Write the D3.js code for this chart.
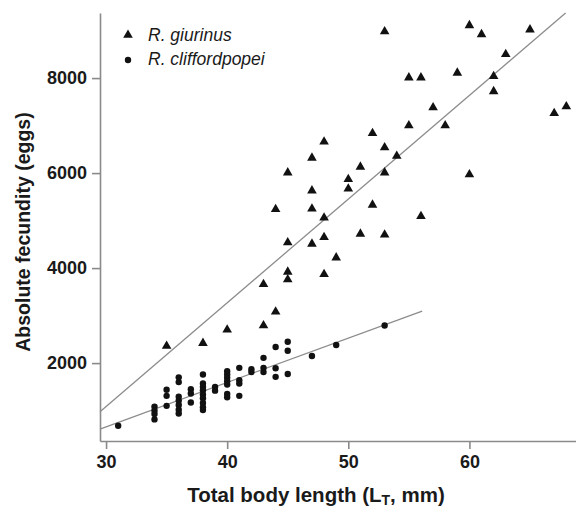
<!DOCTYPE html>
<html>
<head>
<meta charset="utf-8">
<script src="https://cdn.jsdelivr.net/npm/d3@7"></script>
<style>
  body { margin: 0; background: #fff; }
  svg { display: block; font-family: "Liberation Sans", Arial, sans-serif; }
</style>
</head>
<body>
<svg id="chart" width="576" height="509"></svg>
<script>
// R. giurinus (triangles): [length mm, eggs]
const giurinus = [
  [35, 2360], [38, 2420], [40, 2700], [43, 2790], [43, 3660], [44, 3080], [44, 5240],
  [45, 3760], [45, 3920], [45, 4540], [45, 6010], [47, 4510], [47, 5250], [47, 5630],
  [47, 6320], [48, 3870], [48, 4650], [48, 5060], [48, 6660], [49, 4220], [50, 5670],
  [50, 5870], [51, 4720], [51, 6130], [52, 5330], [52, 6840], [53, 4700], [53, 6010],
  [53, 6540], [53, 8980], [54, 6360], [55, 7000], [55, 8010], [56, 5090], [56, 8010],
  [57, 7380], [58, 7000], [59, 8110], [60, 5970], [60, 9110], [61, 8920], [62, 7720],
  [62, 8040], [63, 8500], [65, 9020], [67, 7260], [68, 7400]
];

// R. cliffordpopei (dots)
const cliffordpopei = [
  [31, 680],
  [34, 1080], [34, 1000], [34, 930], [34, 815],
  [35, 1440], [35, 1310], [35, 1100],
  [36, 1700], [36, 1600], [36, 1290], [36, 1210], [36, 1120], [36, 1020], [36, 940],
  [37, 1450], [37, 1360], [37, 1170],
  [38, 1760], [38, 1570], [38, 1500], [38, 1430], [38, 1340], [38, 1260], [38, 1160], [38, 1070], [38, 1010],
  [39, 1500], [39, 1420],
  [40, 1830], [40, 1760], [40, 1690], [40, 1620], [40, 1550], [40, 1350], [40, 1280],
  [41, 1900], [41, 1640], [41, 1570], [41, 1310],
  [42, 1870], [42, 1810],
  [43, 2110], [43, 1900], [43, 1810],
  [44, 2340], [44, 1890], [44, 1710],
  [45, 2450], [45, 2260], [45, 1770],
  [47, 2150], [49, 2380], [53, 2790]
];

// fitted lines: eggs = a + b * length, drawn over [from, to]
const giurinusFit = {a: -5468, b: 218.4, from: 29.5, to: 67.94};
const cliffordFit = {a: -2144, b: 93.4, from: 29.5, to: 56.1};

const xTicks = [30, 40, 50, 60];
const yTicks = [2000, 4000, 6000, 8000];
const legendNames = ["R. giurinus", "R. cliffordpopei"];

const svg = d3.select("#chart");
const plotL = 100, plotR = 576, plotT = 13, plotB = 441;

const x = d3.scaleLinear().domain([29.5, 68.8]).range([plotL, plotR]);
const y = d3.scaleLinear().domain([360, 9370]).range([plotB, plotT]);

const axisColor = "#8a8a8a";

// axes
const xAxis = svg.append("g")
  .attr("transform", "translate(0," + plotB + ")")
  .call(d3.axisBottom(x).tickValues(xTicks).tickSize(8).tickPadding(6).tickSizeOuter(0));
const yAxis = svg.append("g")
  .attr("transform", "translate(" + plotL + ",0)")
  .call(d3.axisLeft(y).tickValues(yTicks).tickSize(8).tickPadding(5).tickSizeOuter(0).tickFormat(d3.format("d")));

[xAxis, yAxis].forEach(function(g) {
  g.select(".domain").attr("stroke", axisColor).attr("stroke-width", 1.6);
  g.selectAll(".tick line").attr("stroke", axisColor).attr("stroke-width", 1.6);
  g.selectAll(".tick text")
    .attr("fill", "#1a1a1a")
    .style("font-family", "Liberation Sans, Arial, sans-serif")
    .style("font-size", "18px")
    .style("font-weight", "bold");
});

// fit lines
const line = d3.line().x(d => x(d[0])).y(d => y(d[1]));
[giurinusFit, cliffordFit].forEach(function(f) {
  svg.append("path")
    .datum([[f.from, f.a + f.b * f.from], [f.to, f.a + f.b * f.to]])
    .attr("d", line)
    .attr("fill", "none")
    .attr("stroke", "#8c8c8c")
    .attr("stroke-width", 1.3);
});

// points
const tri = d3.symbol().type(d3.symbolTriangle).size(40);
svg.append("g").selectAll("path")
  .data(giurinus).enter()
  .append("path")
  .attr("d", tri)
  .attr("transform", d => "translate(" + x(d[0]) + "," + y(d[1]) + ")")
  .attr("fill", "#111");

svg.append("g").selectAll("circle")
  .data(cliffordpopei).enter()
  .append("circle")
  .attr("cx", d => x(d[0]))
  .attr("cy", d => y(d[1]))
  .attr("r", 3.2)
  .attr("fill", "#111");

// legend
const legend = svg.append("g");
legend.append("path").attr("d", tri).attr("transform", "translate(128,35)").attr("fill", "#111");
legend.append("circle").attr("cx", 128).attr("cy", 60).attr("r", 3.2).attr("fill", "#111");
legend.selectAll("text").data(legendNames).enter()
  .append("text")
  .attr("x", 148)
  .attr("y", (d, i) => 41 + i * 24)
  .attr("font-size", 17.5)
  .attr("font-style", "italic")
  .attr("fill", "#1a1a1a")
  .text(d => d);

// axis titles
const xt = svg.append("text")
  .attr("x", 316)
  .attr("y", 502)
  .attr("text-anchor", "middle")
  .attr("font-size", 20.5)
  .attr("font-weight", "bold")
  .attr("fill", "#1a1a1a");
xt.append("tspan").text("Total body length (L");
xt.append("tspan").attr("font-size", 14).attr("dy", 3).text("T");
xt.append("tspan").attr("dy", -3).text(", mm)");

svg.append("text")
  .attr("transform", "translate(30,232) rotate(-90)")
  .attr("text-anchor", "middle")
  .attr("font-size", 19.5)
  .attr("font-weight", "bold")
  .attr("fill", "#1a1a1a")
  .text("Absolute fecundity (eggs)");
</script>
</body>
</html>
